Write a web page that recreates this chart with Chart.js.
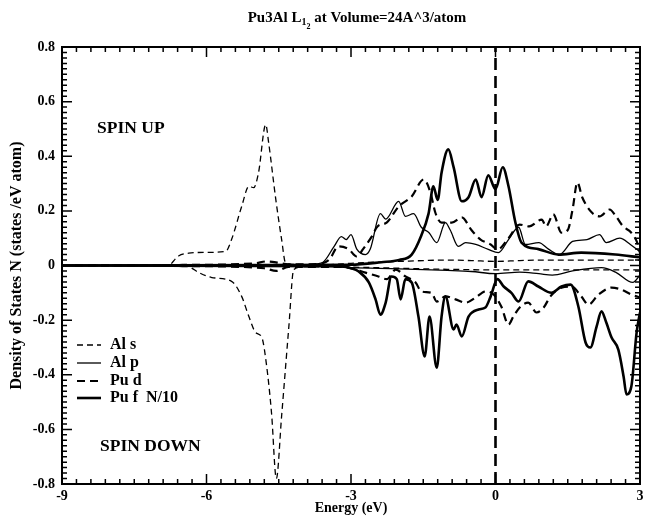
<!DOCTYPE html>
<html><head><meta charset="utf-8">
<script src="https://cdn.jsdelivr.net/npm/chart.js@4.4.0/dist/chart.umd.min.js"></script>
<style>html,body{margin:0;padding:0;background:#fff}</style>
</head><body>
<canvas id="c" width="649" height="519"></canvas>
<script>
// ---- axis ticks ----
const xTickValues = [-9, -6, -3, 0, 3];
const xTickLabels = ['-9', '-6', '-3', '0', '3'];
const yTickValues = [-0.8, -0.6, -0.4, -0.2, 0, 0.2, 0.4, 0.6, 0.8];
const yTickLabels = ['-0.8', '-0.6', '-0.4', '-0.2', '0', '0.2', '0.4', '0.6', '0.8'];
const seriesNames = ['Al s', 'Al p', 'Pu d', 'Pu f  N/10'];
const fermiEnergy = 0;

// ---- series: [energy (eV), DOS] ----
const alsUp = [[-9,0],[-6.8,0],[-6.58,0.035],[-6.37,0.045],[-6.0,0.048],[-5.6,0.052],[-5.48,0.095],[-5.27,0.216],[-5.12,0.29],[-5.02,0.285],[-4.92,0.34],[-4.77,0.516],[-4.71,0.45],[-4.56,0.24],[-4.44,0.095],[-4.36,0.01],[-4.2,0.004],[-3.5,0.003],[-3.0,0.008],[-2.5,0.012],[-2.0,0.015],[-1.5,0.018],[-1.0,0.02],[-0.5,0.018],[0,0.015],[0.5,0.018],[1.0,0.02],[1.5,0.02],[2.0,0.02],[2.5,0.02],[3,0.02]];
const alsDown = [[-9,0],[-6.8,0],[-6.37,-0.005],[-6.16,-0.026],[-5.89,-0.044],[-5.48,-0.058],[-5.27,-0.113],[-5.12,-0.187],[-4.98,-0.245],[-4.85,-0.264],[-4.75,-0.37],[-4.65,-0.54],[-4.55,-0.78],[-4.44,-0.55],[-4.29,-0.223],[-4.19,-0.015],[-4.0,-0.005],[-3,-0.006],[-2,-0.01],[-1,-0.014],[0,-0.016],[1,-0.016],[2,-0.016],[3,-0.016]];
const alpUp = [[-9,0],[-4.0,0.003],[-3.6,0.01],[-3.35,0.07],[-3.2,0.106],[-3.1,0.095],[-3.0,0.113],[-2.88,0.06],[-2.7,0.04],[-2.6,0.06],[-2.39,0.19],[-2.28,0.17],[-2.01,0.235],[-1.87,0.18],[-1.7,0.19],[-1.54,0.14],[-1.38,0.12],[-1.22,0.084],[-1.04,0.157],[-0.94,0.13],[-0.77,0.07],[-0.62,0.084],[-0.41,0.077],[-0.15,0.059],[0.06,0.047],[0.27,0.095],[0.48,0.14],[0.62,0.077],[0.9,0.084],[1.1,0.06],[1.33,0.04],[1.6,0.088],[1.9,0.095],[2.16,0.113],[2.3,0.084],[2.58,0.1],[2.8,0.077],[3.0,0.05]];
const alpDown = [[-9,0],[-3.5,-0.003],[-3.0,-0.008],[-2.0,-0.012],[-1.0,-0.018],[-0.5,-0.022],[0.0,-0.03],[0.5,-0.024],[0.9,-0.03],[1.18,-0.035],[1.6,-0.02],[2.2,-0.008],[2.5,-0.025],[2.85,-0.062],[3.0,-0.035]];
const pudUp = [[-9,0],[-6.5,0.002],[-5.0,0.008],[-4.75,0.015],[-4.5,0.01],[-4.3,0.004],[-3.7,0.005],[-3.45,0.022],[-3.26,0.07],[-3.05,0.06],[-2.88,0.033],[-2.75,0.06],[-2.57,0.106],[-2.45,0.143],[-2.26,0.157],[-2.01,0.216],[-1.74,0.253],[-1.49,0.315],[-1.35,0.267],[-1.25,0.194],[-1.12,0.157],[-0.91,0.157],[-0.7,0.176],[-0.5,0.13],[-0.31,0.095],[-0.1,0.077],[0.04,0.059],[0.27,0.1],[0.5,0.15],[0.7,0.143],[0.96,0.168],[1.05,0.143],[1.2,0.187],[1.37,0.12],[1.5,0.13],[1.6,0.205],[1.7,0.304],[1.8,0.25],[2.0,0.194],[2.16,0.18],[2.37,0.205],[2.5,0.18],[2.65,0.143],[2.82,0.12],[2.95,0.08],[3.0,0.047]];
const pudDown = [[-9,0],[-6.5,-0.002],[-4.8,-0.01],[-4.55,-0.02],[-4.3,-0.005],[-3.2,-0.005],[-3.0,-0.01],[-2.7,-0.026],[-2.43,-0.04],[-2.26,-0.05],[-2.07,-0.015],[-1.87,-0.04],[-1.66,-0.062],[-1.54,-0.095],[-1.33,-0.1],[-1.22,-0.132],[-1.04,-0.113],[-0.83,-0.124],[-0.62,-0.136],[-0.41,-0.117],[-0.21,-0.095],[-0.04,-0.106],[0.12,-0.15],[0.27,-0.216],[0.37,-0.187],[0.52,-0.15],[0.68,-0.136],[0.85,-0.172],[1.0,-0.154],[1.14,-0.113],[1.37,-0.081],[1.58,-0.077],[1.78,-0.113],[1.93,-0.143],[2.14,-0.106],[2.41,-0.081],[2.61,-0.088],[2.82,-0.106],[3.0,-0.117]];
const pufUp = [[-9,0],[-3,0.003],[-2.37,0.012],[-2.0,0.02],[-1.74,0.04],[-1.54,0.11],[-1.39,0.19],[-1.29,0.29],[-1.2,0.24],[-1.12,0.34],[-0.98,0.425],[-0.87,0.36],[-0.7,0.235],[-0.56,0.25],[-0.41,0.315],[-0.29,0.25],[-0.15,0.33],[0.0,0.28],[0.15,0.36],[0.27,0.29],[0.41,0.16],[0.54,0.084],[0.89,0.06],[1.31,0.04],[1.78,0.047],[2.49,0.04],[3.0,0.03]];
const pufDown = [[-9,0],[-3.2,-0.003],[-3.0,-0.01],[-2.84,-0.022],[-2.63,-0.062],[-2.49,-0.124],[-2.39,-0.18],[-2.28,-0.136],[-2.16,-0.04],[-2.05,-0.05],[-1.97,-0.124],[-1.87,-0.05],[-1.74,-0.062],[-1.6,-0.187],[-1.47,-0.333],[-1.37,-0.187],[-1.22,-0.374],[-1.12,-0.187],[-1.04,-0.113],[-0.87,-0.234],[-0.81,-0.216],[-0.7,-0.26],[-0.56,-0.187],[-0.35,-0.161],[-0.21,-0.154],[-0.1,-0.113],[0.04,-0.05],[0.17,-0.077],[0.33,-0.1],[0.48,-0.132],[0.68,-0.058],[0.89,-0.077],[1.16,-0.1],[1.37,-0.077],[1.56,-0.07],[1.72,-0.15],[1.87,-0.282],[1.97,-0.3],[2.1,-0.223],[2.2,-0.168],[2.3,-0.209],[2.41,-0.264],[2.55,-0.308],[2.66,-0.407],[2.72,-0.472],[2.82,-0.443],[2.93,-0.245],[3.0,-0.172]];

const SERIF = '"Liberation Serif", "Times New Roman", serif';
const styles = [
  {width: 1.3, dash: [6, 4]},   // Al s
  {width: 1.3, dash: []},       // Al p
  {width: 2.2, dash: [8, 5]},   // Pu d
  {width: 2.6, dash: []}        // Pu f
];
const toPts = arr => arr.map(p => ({x: p[0], y: p[1]}));
const groups = [[alsUp, alsDown], [alpUp, alpDown], [pudUp, pudDown], [pufUp, pufDown]];
const datasets = [];
groups.forEach((g, i) => {
  g.forEach(arr => datasets.push({
    label: seriesNames[i], data: toPts(arr), borderColor: '#000',
    borderWidth: styles[i].width, borderDash: styles[i].dash,
    pointRadius: 0, fill: false, cubicInterpolationMode: 'monotone'
  }));
});
datasets.push({label: 'Fermi', data: [{x: fermiEnergy, y: yTickValues[0]}, {x: fermiEnergy, y: yTickValues[yTickValues.length - 1]}],
  borderColor: '#000', borderWidth: 2.6, borderDash: [12, 6], pointRadius: 0, fill: false});

const overlay = {
  id: 'overlay',
  afterDraw(chart) {
    const ctx = chart.ctx, a = chart.chartArea, xs = chart.scales.x, ys = chart.scales.y;
    ctx.save();
    ctx.strokeStyle = '#000'; ctx.fillStyle = '#000';
    ctx.lineWidth = 2; ctx.setLineDash([]);
    ctx.strokeRect(a.left, a.top, a.right - a.left, a.bottom - a.top);
    ctx.lineWidth = 1.5;
    ctx.beginPath();
    for (let i = 0; i < xTickValues.length; i++) {
      const px = xs.getPixelForValue(xTickValues[i]);
      ctx.moveTo(px, a.bottom); ctx.lineTo(px, a.bottom - 10);
      ctx.moveTo(px, a.top); ctx.lineTo(px, a.top + 10);
      if (i < xTickValues.length - 1) {
        const st = (xTickValues[i + 1] - xTickValues[i]) / 10;
        for (let k = 1; k < 10; k++) {
          const p = xs.getPixelForValue(xTickValues[i] + k * st);
          ctx.moveTo(p, a.bottom); ctx.lineTo(p, a.bottom - 5);
          ctx.moveTo(p, a.top); ctx.lineTo(p, a.top + 5);
        }
      }
    }
    for (let i = 0; i < yTickValues.length; i++) {
      const py = ys.getPixelForValue(yTickValues[i]);
      ctx.moveTo(a.left, py); ctx.lineTo(a.left + 10, py);
      ctx.moveTo(a.right, py); ctx.lineTo(a.right - 10, py);
      if (i < yTickValues.length - 1) {
        const st = (yTickValues[i + 1] - yTickValues[i]) / 10;
        for (let k = 1; k < 10; k++) {
          const p = ys.getPixelForValue(yTickValues[i] + k * st);
          ctx.moveTo(a.left, p); ctx.lineTo(a.left + 5, p);
          ctx.moveTo(a.right, p); ctx.lineTo(a.right - 5, p);
        }
      }
    }
    ctx.stroke();

    // Title with subscripts
    ctx.textBaseline = 'alphabetic';
    const tf = 'bold 15px ' + SERIF, sf = 'bold 10px ' + SERIF, ssf = 'bold 8px ' + SERIF;
    const p1 = 'Pu3Al L', s1 = '1', s2 = '2', p2 = ' at Volume=24A^3/atom';
    ctx.font = tf; const w1 = ctx.measureText(p1).width, w4 = ctx.measureText(p2).width;
    ctx.font = sf; const w2 = ctx.measureText(s1).width;
    ctx.font = ssf; const w3 = ctx.measureText(s2).width;
    let tx = 357 - (w1 + w2 + w3 + w4) / 2; const ty = 22;
    ctx.textAlign = 'left';
    ctx.font = tf; ctx.fillText(p1, tx, ty); tx += w1;
    ctx.font = sf; ctx.fillText(s1, tx, ty + 3); tx += w2;
    ctx.font = ssf; ctx.fillText(s2, tx, ty + 7); tx += w3;
    ctx.font = tf; ctx.fillText(p2, tx, ty);

    // Spin labels
    ctx.font = 'bold 17.5px ' + SERIF; ctx.textBaseline = 'middle';
    ctx.fillText('SPIN UP', 97, 128);
    ctx.fillText('SPIN DOWN', 100, 446);

    // Legend
    const rows = [345, 363, 381, 398];
    ctx.font = 'bold 16px ' + SERIF;
    seriesNames.forEach((n, i) => {
      ctx.save();
      ctx.lineWidth = styles[i].width; ctx.setLineDash(styles[i].dash);
      ctx.beginPath(); ctx.moveTo(77, rows[i]); ctx.lineTo(101, rows[i]); ctx.stroke();
      ctx.restore();
      ctx.fillText(n, 110, rows[i]);
    });
    ctx.restore();
  }
};

new Chart(document.getElementById('c'), {
  type: 'line',
  data: {datasets},
  options: {
    responsive: false, animation: false,
    layout: {padding: {left: 0, right: 9, top: 47, bottom: 0}},
    plugins: {legend: {display: false}, title: {display: false}, tooltip: {enabled: false}},
    scales: {
      x: {
        type: 'linear', min: xTickValues[0], max: xTickValues[xTickValues.length - 1],
        afterBuildTicks: s => { s.ticks = xTickValues.map(v => ({value: v})); },
        afterFit: s => { s.height = 35; },
        grid: {display: false, drawTicks: false}, border: {display: false},
        ticks: {callback: (v, i) => xTickLabels[i], color: '#000', padding: 4, maxRotation: 0, autoSkip: false,
          font: {family: SERIF, weight: 'bold', size: 14}},
        title: {display: true, text: 'Energy (eV)', color: '#000', padding: {top: 0, bottom: 2},
          font: {family: SERIF, weight: 'bold', size: 14}}
      },
      y: {
        type: 'linear', min: yTickValues[0], max: yTickValues[yTickValues.length - 1],
        afterBuildTicks: s => { s.ticks = yTickValues.map(v => ({value: v})); },
        afterFit: s => { s.width = 62; },
        grid: {display: false, drawTicks: false}, border: {display: false},
        ticks: {callback: (v, i) => yTickLabels[i], color: '#000', padding: 7, autoSkip: false,
          font: {family: SERIF, weight: 'bold', size: 14}},
        title: {display: true, text: 'Density of States N (states /eV atom)', color: '#000', padding: {top: 7, bottom: 0},
          font: {family: SERIF, weight: 'bold', size: 16}}
      }
    }
  },
  plugins: [overlay]
});
</script>
</body></html>
